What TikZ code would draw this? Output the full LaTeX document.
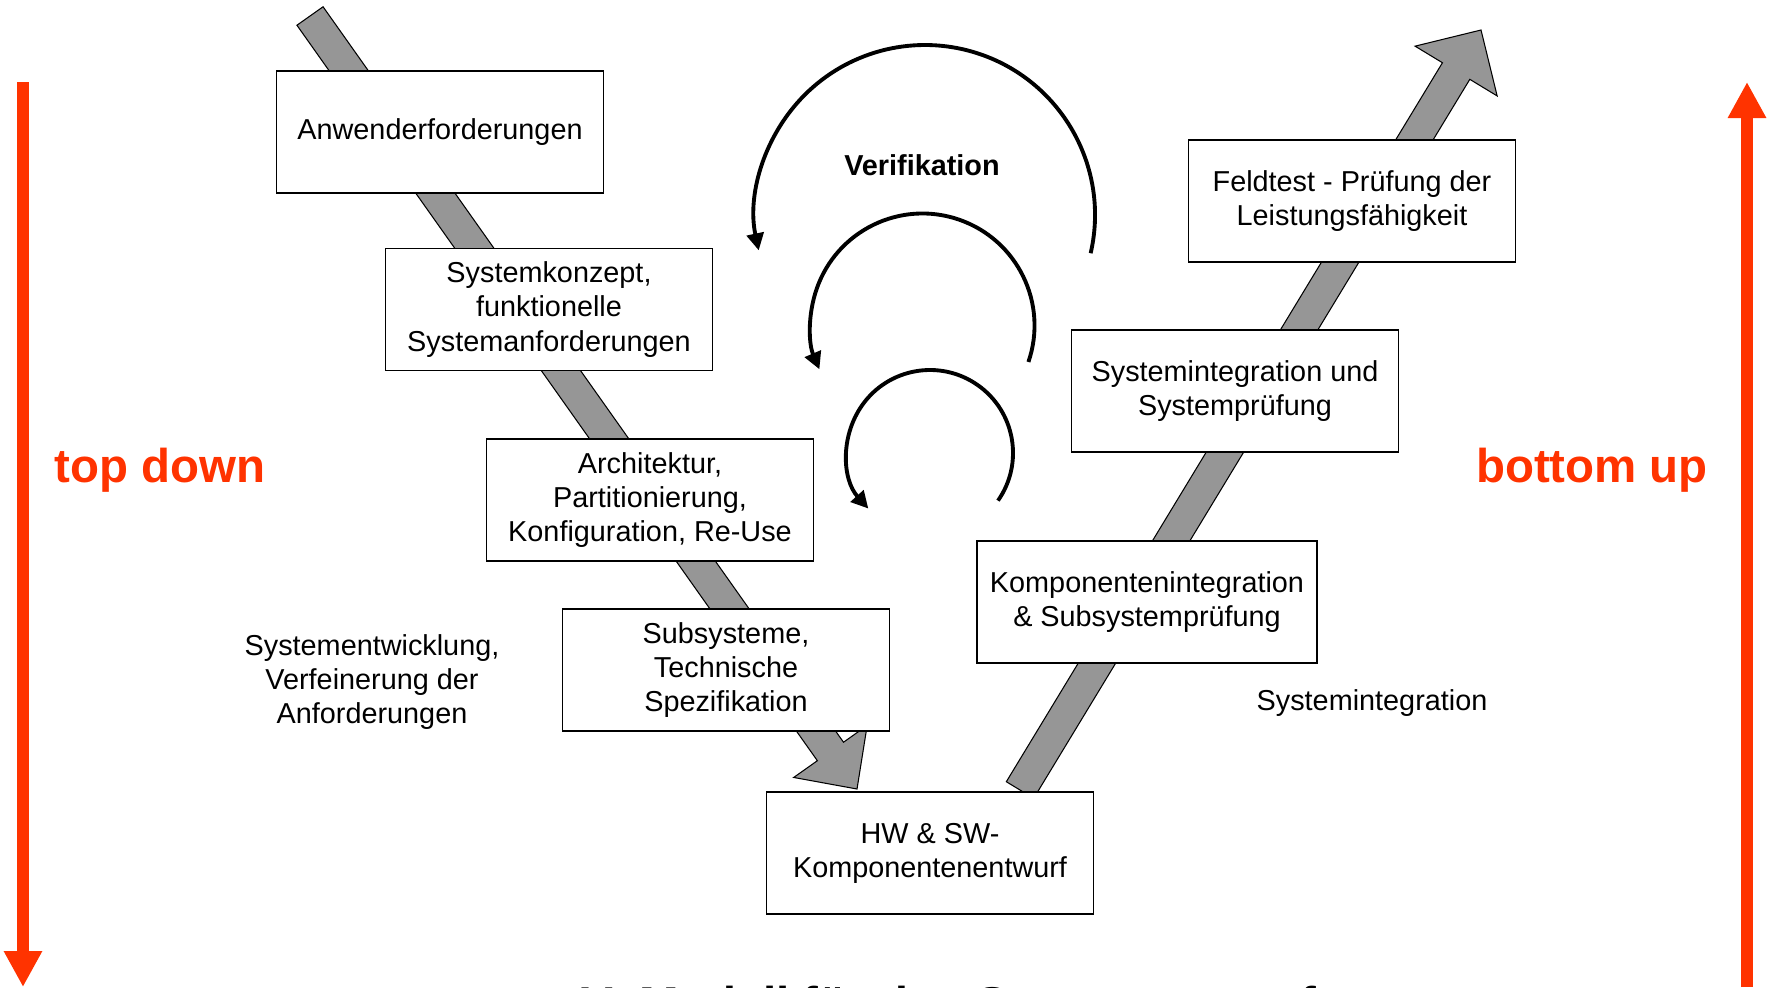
\documentclass[tikz,border=0pt]{standalone}
\usepackage{fontspec}
\setmainfont{Liberation Sans}
\usetikzlibrary{arrows.meta,calc,positioning}

\begin{document}
\begin{tikzpicture}
        \definecolor{vred}{RGB}{255,51,0}
        \definecolor{vgray}{RGB}{150,150,150}
        \tikzset{
            vbox/.style={draw, fill=white, line width=0.5pt, minimum width=3.27cm, minimum height=1.22cm, inner sep=0pt, align=center, font=\fontsize{8.2}{9.7}\selectfont},
            vband/.style={fill=vgray, draw=black, line width=0.3pt, line join=miter},
            verarc/.style={line width=1.1pt, -{Triangle[length=1.7mm, width=1.7mm]}},
            vlabel/.style={align=center, font=\fontsize{8.2}{9.7}\selectfont},
            dirlabel/.style={text=vred, font=\fontsize{13.5}{16}\selectfont\bfseries},
            dirarrow/.style={vred, line width=0.12cm, -{Triangle[length=0.36cm, width=0.36cm]}}
        }
        \useasboundingbox (0,0) rectangle (17.67,-9.87);

        % Ends of the two grey bands of the V
        \coordinate (l-end) at (3.10,-0.16);
        \coordinate (l-tip) at (8.57,-7.89);
        \coordinate (l-neck) at ($(l-tip)!0.46cm!(l-end)$);
        \coordinate (r-end) at (10.20,-7.90);
        \coordinate (r-tip) at (14.81,-0.30);
        \coordinate (r-neck) at ($(r-tip)!0.48cm!(r-end)$);

        % Draw the bands FIRST, boxes go on top
        \filldraw[vband] ($(l-end)!0.16cm!90:(l-tip)$) -- ($(l-neck)!0.16cm!90:(l-tip)$) -- ($(l-neck)!0.45cm!90:(l-tip)$) -- (l-tip)
            -- ($(l-neck)!0.45cm!-90:(l-tip)$) -- ($(l-neck)!0.16cm!-90:(l-tip)$) -- ($(l-end)!0.16cm!-90:(l-tip)$) -- cycle;
        \filldraw[vband] ($(r-end)!0.16cm!90:(r-tip)$) -- ($(r-neck)!0.16cm!90:(r-tip)$) -- ($(r-neck)!0.48cm!90:(r-tip)$) -- (r-tip)
            -- ($(r-neck)!0.48cm!-90:(r-tip)$) -- ($(r-neck)!0.16cm!-90:(r-tip)$) -- ($(r-end)!0.16cm!-90:(r-tip)$) -- cycle;

        % Left branch: top down
        \node[vbox] (anw) at (4.40,-1.32) {Anwenderforderungen};
        \node[vbox] (konz) at (5.49,-3.095) {Systemkonzept,\\funktionelle\\Systemanforderungen};
        \node[vbox] (arch) at (6.50,-5.00) {Architektur,\\Partitionierung,\\Konfiguration, Re-Use};
        \node[vbox] (subs) at (7.26,-6.70) {Subsysteme,\\Technische\\Spezifikation};
        \node[vbox] (hwsw) at (9.30,-8.53) {HW \& SW-\\Komponentenentwurf};

        % Right branch: bottom up
        \node[vbox, minimum width=3.40cm] (kint) at (11.47,-6.02) {Komponentenintegration\\\& Subsystemprüfung};
        \node[vbox] (sint) at (12.35,-3.91) {Systemintegration und\\Systemprüfung};
        \node[vbox] (feld) at (13.52,-2.01) {Feldtest - Prüfung der\\Leistungsfähigkeit};

        \node[vlabel] (entw) at (3.72,-6.82) {Systementwicklung,\\Verfeinerung der\\Anforderungen};
        \node[vlabel] (integ) at (13.72,-7.03) {Systemintegration};

        % Verification loops
        \coordinate (v1) at (9.25,-2.15);
        \coordinate (v2) at (9.225,-3.255);
        \coordinate (v3) at (9.30,-4.53);
        \draw[verarc] ([shift={(-13:1.70)}]v1) arc[start angle=-13, end angle=192, radius=1.70];
        \draw[verarc] ([shift={(-19:1.12)}]v2) arc[start angle=-19, end angle=203, radius=1.12];
        \draw[verarc] ([shift={(-35:0.83)}]v3) arc[start angle=-35, end angle=222, radius=0.83];
        \node[font=\fontsize{8.2}{9.7}\selectfont\bfseries] (verif) at (9.22,-1.65) {Verifikation};

        % Direction arrows at the sides
        \coordinate (td-top) at (0.23,-0.82);
        \coordinate (td-bot) at (0.23,-9.87);
        \coordinate (bu-bot) at (17.47,-9.87);
        \coordinate (bu-top) at (17.47,-0.82);
        \draw[dirarrow] (td-top) -- (td-bot);
        \draw[dirarrow] (bu-bot) -- (bu-top);
        \node[dirlabel] (tdown) at (1.60,-4.70) {top down};
        \node[dirlabel] (bup) at (15.92,-4.70) {bottom up};

        % Caption, cut by the page edge
        \node[anchor=base, font=\fontsize{13.5}{16}\selectfont\bfseries] (title) at (9.49,-10.20) {V- Modell für den Systementwurf};
    \end{tikzpicture}
\end{document}
